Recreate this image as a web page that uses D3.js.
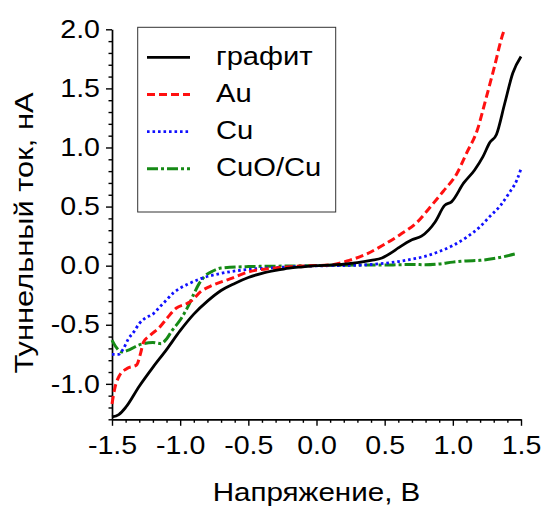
<!DOCTYPE html>
<html>
<head>
<meta charset="utf-8">
<script src="https://cdn.jsdelivr.net/npm/d3@7"></script>
<style>
  body { margin: 0; background: #fff; }
  text { font-family: Arial, "Liberation Sans", sans-serif; fill: #000; }
</style>
</head>
<body>
<div id="chartArea"></div>
<script>
// voltage (V), tunnel current (nA)
const graphite = [[-1.5,-1.28],[-1.45,-1.26],[-1.4,-1.2],[-1.3,-1.02],[-1.2,-0.86],[-1.1,-0.71],[-1.0,-0.55],
  [-0.9,-0.41],[-0.8,-0.3],[-0.7,-0.21],[-0.6,-0.15],[-0.5,-0.1],[-0.4,-0.065],[-0.3,-0.04],[-0.2,-0.02],
  [-0.1,-0.01],[0,0],[0.1,0.005],[0.2,0.012],[0.3,0.025],[0.4,0.045],[0.48,0.065],[0.55,0.11],[0.6,0.15],
  [0.7,0.22],[0.77,0.25],[0.87,0.37],[0.94,0.51],[0.99,0.54],[1.08,0.7],[1.16,0.81],[1.22,0.92],[1.27,1.04],
  [1.32,1.11],[1.38,1.37],[1.44,1.63],[1.5,1.77]]
const au = [[-1.5,-1.17],[-1.48,-1.04],[-1.45,-0.94],[-1.39,-0.87],[-1.32,-0.84],[-1.29,-0.74],[-1.27,-0.65],
  [-1.22,-0.59],[-1.15,-0.52],[-1.1,-0.45],[-1.03,-0.36],[-0.95,-0.32],[-0.92,-0.3],[-0.85,-0.22],[-0.76,-0.165],
  [-0.63,-0.11],[-0.49,-0.05],[-0.3,-0.02],[-0.1,-0.003],[0.1,0.006],[0.24,0.045],[0.37,0.1],[0.49,0.175],
  [0.61,0.26],[0.74,0.37],[0.83,0.49],[0.93,0.63],[1.03,0.78],[1.1,0.95],[1.18,1.15],[1.24,1.4],[1.3,1.66],
  [1.37,1.97],[1.38,2.0]]
const cu = [[-1.5,-0.75],[-1.45,-0.75],[-1.42,-0.71],[-1.38,-0.62],[-1.34,-0.56],[-1.3,-0.49],[-1.25,-0.44],
  [-1.2,-0.41],[-1.15,-0.35],[-1.1,-0.29],[-1.05,-0.23],[-1.0,-0.19],[-0.95,-0.16],[-0.85,-0.11],[-0.7,-0.065],
  [-0.55,-0.038],[-0.3,-0.016],[-0.1,-0.005],[0.1,0],[0.3,0.003],[0.4,0.01],[0.5,0.02],[0.6,0.035],[0.7,0.055],
  [0.8,0.08],[0.9,0.12],[1.0,0.17],[1.1,0.24],[1.2,0.33],[1.27,0.415],[1.35,0.51],[1.41,0.61],[1.47,0.725],[1.5,0.82]]
const cuo = [[-1.5,-0.63],[-1.47,-0.69],[-1.43,-0.73],[-1.37,-0.71],[-1.3,-0.67],[-1.2,-0.65],[-1.14,-0.66],
  [-1.1,-0.62],[-1.06,-0.55],[-1.0,-0.46],[-0.94,-0.34],[-0.9,-0.24],[-0.86,-0.15],[-0.82,-0.09],[-0.76,-0.045],
  [-0.7,-0.02],[-0.5,-0.008],[-0.2,-0.003],[0.1,0.003],[0.3,0.005],[0.5,0.005],[0.6,0.008],[0.7,0.01],[0.8,0.008],
  [0.9,0.015],[1.0,0.03],[1.1,0.04],[1.2,0.045],[1.3,0.06],[1.37,0.075],[1.46,0.1]]

const seriesNames = ['графит', 'Au', 'Cu', 'CuO/Cu']
const xMajor = [-1.5, -1.0, -0.5, 0.0, 0.5, 1.0, 1.5]
const yMajor = [-1.0, -0.5, 0.0, 0.5, 1.0, 1.5, 2.0]

const width = 545
const height = 509
const margin = { top: 29.3, right: 24, bottom: 89.7, left: 112 }

// text in the picture is wider than plain Arial, stretch it along the baseline
const widen = (sel, k) => sel.each(function () {
  const w = this.getComputedTextLength()
  d3.select(this).attr('textLength', w * k).attr('lengthAdjust', 'spacingAndGlyphs')
})

const svg = d3.select('#chartArea').append('svg')
  .attr('width', width).attr('height', height)

const x = d3.scaleLinear().domain([-1.5, 1.5]).range([margin.left, width - margin.right])
const y = d3.scaleLinear().domain([-1.3, 2.0]).range([height - margin.bottom, margin.top])

const xMinor = d3.range(-15, 16).map(i => i / 10).filter(v => Math.abs(Math.round(v * 10)) % 5 !== 0)
const yMinor = d3.range(-13, 21).map(i => i / 10).filter(v => Math.abs(Math.round(v * 10)) % 5 !== 0)

// minor ticks
svg.append('g').attr('transform', `translate(0,${y(-1.3)})`)
  .call(d3.axisBottom(x).tickValues(xMinor).tickSize(3.5).tickSizeOuter(0).tickFormat(''))
  .call(g => g.select('.domain').remove())
svg.append('g').attr('transform', `translate(${x(-1.5)},0)`)
  .call(d3.axisLeft(y).tickValues(yMinor).tickSize(3.5).tickSizeOuter(0).tickFormat(''))
  .call(g => g.select('.domain').remove())

// major ticks + labels
const xAxis = svg.append('g').attr('transform', `translate(0,${y(-1.3)})`)
  .call(d3.axisBottom(x).tickValues(xMajor).tickSize(6.5).tickSizeOuter(0).tickPadding(10.5)
    .tickFormat(d => d.toFixed(1)))
const yAxis = svg.append('g').attr('transform', `translate(${x(-1.5)},0)`)
  .call(d3.axisLeft(y).tickValues(yMajor).tickSize(6).tickSizeOuter(0).tickPadding(6)
    .tickFormat(d => d.toFixed(1)))

svg.selectAll('.tick line').attr('stroke', '#000').attr('stroke-width', 1.4)
svg.selectAll('.domain').attr('stroke', '#000').attr('stroke-width', 1.7)
xAxis.selectAll('text').attr('font-size', 25.5).attr('font-family', 'Arial, "Liberation Sans", sans-serif')
  .call(widen, 1.12)
yAxis.selectAll('text').attr('font-size', 25.5).attr('font-family', 'Arial, "Liberation Sans", sans-serif')
  .call(widen, 1.12)

// curves
const line = d3.line().x(d => x(d[0])).y(d => y(d[1])).curve(d3.curveMonotoneX)
const styles = [
  { data: graphite, color: '#000000', dash: null, w: 2.8 },
  { data: au, color: '#ff1010', dash: '8,4', w: 3 },
  { data: cu, color: '#1010ff', dash: '2.6,2.9', w: 2.8 },
  { data: cuo, color: '#168a16', dash: '11,3,3,3', w: 3 }
]
// draw graphite last so it sits on top like in the picture
const order = [3, 2, 1, 0]
svg.append('g').selectAll('path').data(order.map(i => styles[i])).join('path')
  .attr('d', d => line(d.data))
  .attr('fill', 'none')
  .attr('stroke', d => d.color)
  .attr('stroke-width', d => d.w)
  .attr('stroke-dasharray', d => d.dash)
  .attr('stroke-linejoin', 'round')

// legend
const legend = svg.append('g')
legend.append('rect')
  .attr('x', 137.7).attr('y', 27.3).attr('width', 198).attr('height', 184.7)
  .attr('fill', '#fff').attr('stroke', '#333').attr('stroke-width', 1)
const rowY = d3.scalePoint().domain(seriesNames).range([57.3, 168.7])
const items = legend.selectAll('g.item').data(seriesNames).join('g').attr('class', 'item')
items.append('line')
  .attr('x1', 147).attr('x2', 190)
  .attr('y1', d => rowY(d)).attr('y2', d => rowY(d))
  .attr('stroke', (d, i) => styles[i].color)
  .attr('stroke-width', (d, i) => styles[i].w)
  .attr('stroke-dasharray', (d, i) => styles[i].dash)
items.append('text')
  .attr('x', 216).attr('y', d => rowY(d) + 7.5)
  .attr('font-size', 26.5)
  .text(d => d)
  .call(widen, 1.1)

// axis titles
svg.append('text')
  .attr('x', x(0)).attr('y', 501)
  .attr('text-anchor', 'middle')
  .attr('font-size', 25.5)
  .text('Напряжение, В')
  .call(widen, 1.16)

svg.append('text')
  .attr('transform', 'translate(33,233) rotate(-90)')
  .attr('text-anchor', 'middle')
  .attr('font-size', 25.5)
  .text('Туннельный ток, нА')
  .call(widen, 1.21)
</script>
</body>
</html>
